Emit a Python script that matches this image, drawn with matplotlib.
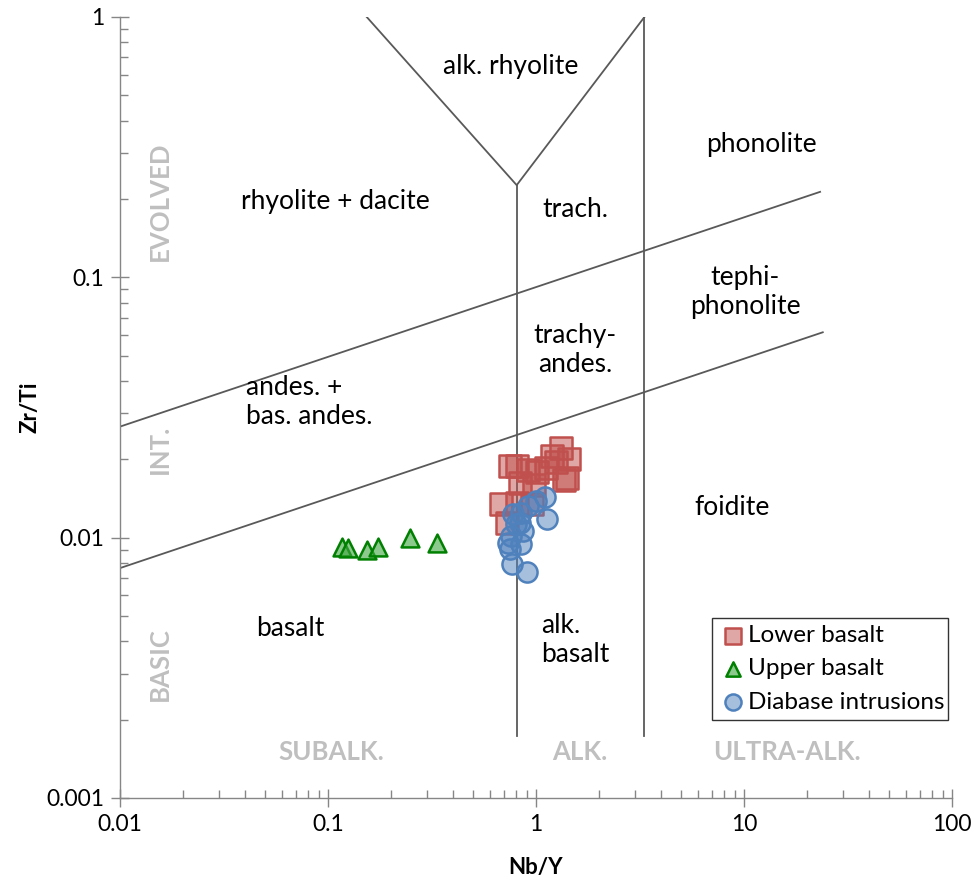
import matplotlib
matplotlib.use("Agg")
import matplotlib.pyplot as plt
from matplotlib.ticker import FixedLocator, LogLocator, NullFormatter, FuncFormatter

plt.rcParams['font.family'] = ['Lato', 'DejaVu Sans']

# Nb/Y and Zr/Ti ratios per unit
lower_nby = [1.319, 1.198, 1.436, 0.747, 0.813, 1.015, 1.113, 1.410, 1.363,
             0.840, 0.975, 0.676, 0.725, 0.810, 0.957, 1.248, 0.915]
lower_zrti = [0.02211, 0.02060, 0.02011, 0.01885, 0.01885, 0.01788, 0.01852, 0.01699, 0.01665,
              0.01626, 0.01594, 0.01343, 0.01135, 0.01362, 0.01351, 0.01953, 0.01820]

upper_nby = [0.1164, 0.125, 0.1535, 0.1746, 0.248, 0.335]
upper_zrti = [0.00923, 0.0091, 0.00898, 0.00923, 0.00994, 0.00957]

diabase_nby = [1.101, 1.003, 0.915, 1.133, 0.775, 0.850, 0.804, 0.866, 0.733,
               0.850, 0.747, 0.767, 0.905, 0.835, 0.761]
diabase_zrti = [0.01433, 0.01383, 0.01323, 0.01183, 0.01229, 0.01247, 0.01125, 0.01061, 0.00956,
                0.00943, 0.00902, 0.00790, 0.00738, 0.01141, 0.01015]

# field boundaries (Pearce 1996), as (Nb/Y, Zr/Ti) polylines
boundaries = [
    ([0.1535, 0.807, 3.32], [1.0, 0.226, 1.0]),
    ([0.807, 0.807], [0.226, 0.00173]),
    ([3.32, 3.32], [1.0, 0.00173]),
    ([0.01, 23.2], [0.0267, 0.213]),
    ([0.01, 23.9], [0.00764, 0.0615]),
]

field_names = [
    (0.759, 0.648, 'alk. rhyolite', 'center'),
    (12.07, 0.325, 'phonolite', 'center'),
    (0.109, 0.1964, 'rhyolite + dacite', 'center'),
    (1.54, 0.183, 'trach.', 'center'),
    (10.1, 0.0878, 'tephi-\nphonolite', 'center'),
    (1.54, 0.0526, 'trachy-\nandes.', 'center'),
    (0.0404, 0.0332, 'andes. +\nbas. andes.', 'left'),
    (8.75, 0.0130, 'foidite', 'center'),
    (0.0656, 0.00446, 'basalt', 'center'),
    (1.057, 0.00404, 'alk.\nbasalt', 'left'),
]

# grey series labels: (x, y, text, rotation)
series_names = [
    (0.01557, 0.196, 'EVOLVED', 90),
    (0.01557, 0.0219, 'INT.', 90),
    (0.01557, 0.00327, 'BASIC', 90),
    (0.1034, 0.0015, 'SUBALK.', 0),
    (1.627, 0.0015, 'ALK.', 0),
    (16.1, 0.0015, 'ULTRA-ALK.', 0),
]

fig = plt.figure(figsize=(9.79, 8.90), dpi=100)
ax = fig.add_axes([0.1226, 0.1034, 0.8499, 0.8775])
ax.set_xscale('log')
ax.set_yscale('log')
ax.set_xlim(0.01, 100)
ax.set_ylim(0.001, 1)

for xs, ys in boundaries:
    ax.plot(xs, ys, color='#595959', lw=1.3, zorder=1)

for x, y, name, ha in field_names:
    ax.text(x, y, name, ha=ha, va='center', fontsize=19, color='black', linespacing=1.2)

for x, y, name, rot in series_names:
    ax.text(x, y, name, rotation=rot, ha='center', va='center',
            fontsize=18.5, fontweight='bold', color='#bfbfbf')

ax.scatter(lower_nby, lower_zrti, marker='s', s=230, facecolor=(0.753, 0.314, 0.302, 0.5),
           edgecolor='#c0504d', linewidth=1.8, label='Lower basalt', zorder=3)
ax.scatter(upper_nby, upper_zrti, marker='^', s=165, facecolor=(0.25, 0.65, 0.25, 0.6),
           edgecolor='#008000', linewidth=1.8, label='Upper basalt', zorder=3)
ax.scatter(diabase_nby, diabase_zrti, marker='o', s=210, facecolor=(0.31, 0.506, 0.741, 0.5),
           edgecolor='#4f81bd', linewidth=1.8, label='Diabase intrusions', zorder=4)

leg = ax.legend(loc='lower left', bbox_to_anchor=(0.712, 0.1, 0.283, 0.132), mode='expand',
                fontsize=17.5, frameon=True, fancybox=False, borderpad=0.3, handletextpad=0.05,
                handlelength=1.1, labelspacing=0.5, borderaxespad=0, markerscale=0.8)
leg.get_frame().set_edgecolor('black')
leg.get_frame().set_linewidth(1.0)

axis_grey = '#868686'
for side in ('top', 'right'):
    ax.spines[side].set_visible(False)
for side in ('left', 'bottom'):
    ax.spines[side].set_color(axis_grey)
    ax.spines[side].set_linewidth(1.0)

fmt = FuncFormatter(lambda v, pos: ('%g' % v))
ax.xaxis.set_major_locator(FixedLocator([0.01, 0.1, 1, 10, 100]))
ax.yaxis.set_major_locator(FixedLocator([0.001, 0.01, 0.1, 1]))
ax.xaxis.set_major_formatter(fmt)
ax.yaxis.set_major_formatter(fmt)
ax.xaxis.set_minor_locator(LogLocator(base=10, subs=range(2, 10)))
ax.yaxis.set_minor_locator(LogLocator(base=10, subs=range(2, 10)))
ax.xaxis.set_minor_formatter(NullFormatter())
ax.yaxis.set_minor_formatter(NullFormatter())
ax.tick_params(which='major', direction='inout', length=13, width=1.0, color=axis_grey,
               labelsize=16.5, labelcolor='black', pad=5)
ax.tick_params(which='minor', direction='in', length=6, width=1.0, color=axis_grey)

ax.set_xlabel('Nb/Y', fontsize=16, fontweight='bold')
ax.set_ylabel('Zr/Ti', fontsize=16, fontweight='bold')
ax.xaxis.set_label_coords(0.5, -0.0755)
ax.yaxis.set_label_coords(-0.096, 0.5)

fig.savefig('out.png', dpi=100)
